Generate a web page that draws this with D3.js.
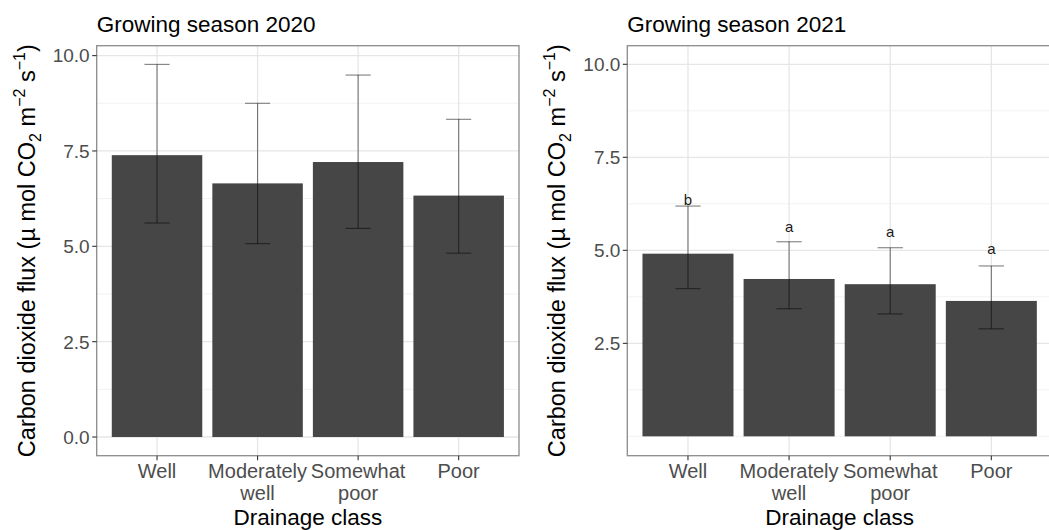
<!DOCTYPE html>
<html>
<head>
<meta charset="utf-8">
<script src="https://cdn.jsdelivr.net/npm/d3@7"></script>
<style>
  html, body { margin: 0; padding: 0; background: #fff; }
  svg { display: block; font-family: "Liberation Sans", Arial, sans-serif; }
</style>
</head>
<body>
<svg id="chart" width="1049" height="530"></svg>
<script>
// drainage classes (tick labels split over two lines)
const categories = ["Well", "Moderately well", "Somewhat poor", "Poor"];
const tickLines = [["Well"], ["Moderately", "well"], ["Somewhat", "poor"], ["Poor"]];

// growing season 2020
const flux2020 = [7.39, 6.65, 7.21, 6.33];
const low2020 = [5.61, 5.07, 5.47, 4.82];
const high2020 = [9.77, 8.75, 9.49, 8.33];

// growing season 2021
const flux2021 = [4.91, 4.23, 4.09, 3.64];
const low2021 = [3.97, 3.43, 3.29, 2.89];
const high2021 = [6.19, 5.23, 5.07, 4.58];
const letters2021 = ["b", "a", "a", "a"];
const letterY2021 = [6.22, 5.50, 5.37, 4.90];

const ticks2020 = [0, 2.5, 5, 7.5, 10];
const minor2020 = [1.25, 3.75, 6.25, 8.75];
const ticks2021 = [2.5, 5, 7.5, 10];
const minor2021 = [0, 1.25, 3.75, 6.25, 8.75];

(() => {
  const svg = d3.select("#chart");
  const top = 45.7, bottom = 455.7;
  const fmt = d3.format(".1f");

  function panel(opt) {
    const g = svg.append("g");
    const x = d3.scaleBand()
      .domain(categories)
      .range([opt.x0, opt.x1])
      .paddingInner(0.1)
      .paddingOuter(0.15);
    const y = d3.scaleLinear().domain(opt.yDomain).range([bottom, top]);
    const step = x.step();
    const cx = c => x(c) + x.bandwidth() / 2;

    // grid
    g.append("g").selectAll("line.minor").data(opt.minor).join("line")
      .attr("x1", opt.x0).attr("x2", opt.x1)
      .attr("y1", d => y(d)).attr("y2", d => y(d))
      .attr("stroke", "#f2f2f2").attr("stroke-width", 1);
    g.append("g").selectAll("line.major").data(opt.ticks).join("line")
      .attr("x1", opt.x0).attr("x2", opt.x1)
      .attr("y1", d => y(d)).attr("y2", d => y(d))
      .attr("stroke", "#e6e6e6").attr("stroke-width", 1.3);
    g.append("g").selectAll("line.vg").data(categories).join("line")
      .attr("x1", cx).attr("x2", cx)
      .attr("y1", top).attr("y2", bottom)
      .attr("stroke", "#e6e6e6").attr("stroke-width", 1.3);

    // bars
    g.append("g").selectAll("rect").data(categories).join("rect")
      .attr("x", d => x(d))
      .attr("width", x.bandwidth())
      .attr("y", (d, i) => y(opt.values[i]))
      .attr("height", (d, i) => y(0) - y(opt.values[i]))
      .attr("fill", "#464646");

    // error bars
    const eb = g.append("g")
      .attr("stroke", "#000").attr("stroke-opacity", 0.5).attr("stroke-width", 1.1);
    categories.forEach((c, i) => {
      const xc = cx(c), hw = step * 0.125;
      eb.append("line").attr("x1", xc).attr("x2", xc)
        .attr("y1", y(opt.low[i])).attr("y2", y(opt.high[i]));
      eb.append("line").attr("x1", xc - hw).attr("x2", xc + hw)
        .attr("y1", y(opt.low[i])).attr("y2", y(opt.low[i]));
      eb.append("line").attr("x1", xc - hw).attr("x2", xc + hw)
        .attr("y1", y(opt.high[i])).attr("y2", y(opt.high[i]));
    });

    // significance letters
    if (opt.letters) {
      g.append("g").selectAll("text").data(categories).join("text")
        .attr("x", cx)
        .attr("y", (d, i) => y(opt.letterY[i]))
        .attr("text-anchor", "middle")
        .attr("fill", "#1a1a1a")
        .style("font-size", "15px")
        .text((d, i) => opt.letters[i]);
    }

    // border
    g.append("rect")
      .attr("x", opt.x0).attr("y", top)
      .attr("width", opt.x1 - opt.x0).attr("height", bottom - top)
      .attr("fill", "none").attr("stroke", "#8c8c8c").attr("stroke-width", 1.3);

    // y axis ticks
    const ya = g.append("g");
    opt.ticks.forEach(t => {
      ya.append("line").attr("x1", opt.x0 - 4.5).attr("x2", opt.x0)
        .attr("y1", y(t)).attr("y2", y(t)).attr("stroke", "#333").attr("stroke-width", 1.1);
      ya.append("text").attr("x", opt.x0 - 7).attr("y", y(t))
        .attr("dy", "0.36em").attr("text-anchor", "end")
        .attr("fill", "#4d4d4d").style("font-size", "19px").text(fmt(t));
    });

    // x axis ticks
    const xa = g.append("g");
    categories.forEach((c, i) => {
      xa.append("line").attr("x1", cx(c)).attr("x2", cx(c))
        .attr("y1", bottom).attr("y2", bottom + 4.5).attr("stroke", "#333").attr("stroke-width", 1.1);
      const t = xa.append("text").attr("x", cx(c)).attr("y", 478)
        .attr("text-anchor", "middle").attr("fill", "#4d4d4d").style("font-size", "20px");
      tickLines[i].forEach((ln, j) => {
        t.append("tspan").attr("x", cx(c)).attr("dy", j === 0 ? 0 : 22).text(ln);
      });
    });

    // axis titles
    g.append("text")
      .attr("x", (opt.x0 + opt.x1) / 2).attr("y", 525)
      .attr("text-anchor", "middle").attr("fill", "#000")
      .style("font-size", "22.5px").text("Drainage class");

    const yl = g.append("text")
      .attr("transform", `translate(${opt.x0 - 62},${(top + bottom) / 2}) rotate(-90)`)
      .attr("text-anchor", "middle").attr("fill", "#000")
      .style("font-size", "23.5px");
    yl.append("tspan").text("Carbon dioxide flux (\u00b5 mol CO");
    yl.append("tspan").attr("dy", 6).style("font-size", "16px").text("2");
    yl.append("tspan").attr("dy", -6).text(" m");
    yl.append("tspan").attr("dy", -10).style("font-size", "16px").text("\u22122");
    yl.append("tspan").attr("dy", 10).text(" s");
    yl.append("tspan").attr("dy", -10).style("font-size", "16px").text("\u22121");
    yl.append("tspan").attr("dy", 10).text(")");

    // panel title
    g.append("text")
      .attr("x", opt.x0).attr("y", 32)
      .attr("fill", "#000").style("font-size", "22.5px").text(opt.title);
  }

  panel({
    x0: 96.7, x1: 519, yDomain: [-0.49, 10.26],
    values: flux2020, low: low2020, high: high2020,
    ticks: ticks2020, minor: minor2020,
    title: "Growing season 2020"
  });

  panel({
    x0: 627.3, x1: 1052, yDomain: [-0.52, 10.5],
    values: flux2021, low: low2021, high: high2021,
    ticks: ticks2021, minor: minor2021,
    letters: letters2021, letterY: letterY2021,
    title: "Growing season 2021"
  });
})();
</script>
</body>
</html>
